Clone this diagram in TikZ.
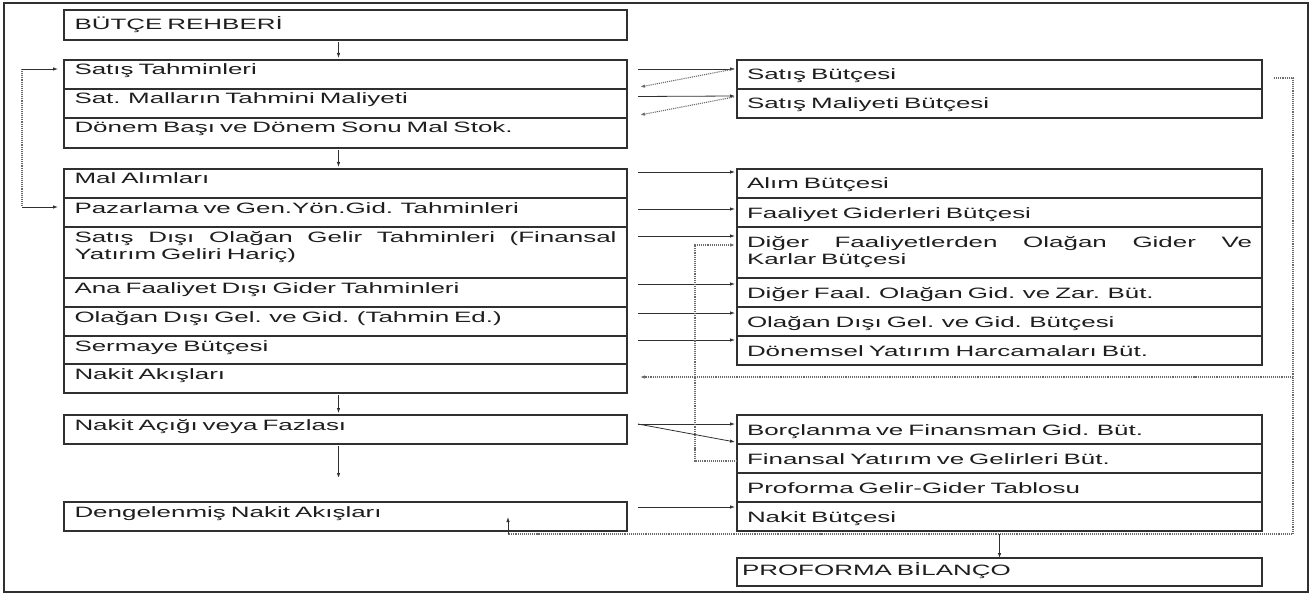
\documentclass[tikz,border=0pt]{standalone}
\usepackage{fontspec}
\setmainfont{Liberation Sans}[FakeStretch=1.73]
\usetikzlibrary{arrows.meta}
\definecolor{boxc}{HTML}{303030}
\definecolor{txtc}{HTML}{1E1E1E}
\definecolor{dotc}{HTML}{6A6A6A}
\tikzset{
  rowbox/.style={draw=boxc, line width=1.1bp, anchor=north west, inner ysep=0pt, outer sep=0pt,
    text=txtc, align=left, font=\fontsize{15bp}{17.5bp}\selectfont},
  lrow/.style={rowbox, inner xsep=10.5bp, text width=542bp, text height=15bp},
  rrow/.style={rowbox, inner xsep=10bp, text width=505bp, text height=20bp},
  arr/.style={draw=boxc, line width=0.8bp, -{Latex[length=5bp,width=3.5bp]}},
  dotl/.style={draw=dotc, line width=1.1bp, densely dotted},
  dotarr/.style={dotl, -{Latex[length=5bp,width=3.5bp]}},
}
\begin{document}
\begin{tikzpicture}[x=1bp,y=-1bp]
\useasboundingbox (0,0) rectangle (1313,595);
\draw[draw=boxc, line width=2bp] (4,3) rectangle (1308,592);

% left column
\node[lrow, text height=19.5bp, text depth=10.5bp] (br) at (64,10) {BÜTÇE REHBERİ};
\node[lrow, text depth=14bp] (st) at (64,60) {Satış Tahminleri};
\node[lrow, text depth=14bp] (smt) at (64,89) {Sat. Malların Tahmini Maliyeti};
\node[lrow, text depth=15bp] (dbs) at (64,118) {Dönem Başı ve Dönem Sonu Mal Stok.};
\node[lrow, text depth=14bp] (ma) at (64,169) {Mal Alımları};
\node[lrow, text depth=14bp] (pz) at (64,198) {Pazarlama ve Gen.Yön.Gid. Tahminleri};
\node[lrow, text depth=36bp] (sdo) at (64,227) {\hbox to 542bp{Satış\hfill Dışı\hfill Olağan\hfill Gelir\hfill Tahminleri\hfill (Finansal}\\Yatırım Geliri Hariç)};
\node[lrow, text depth=14bp] (afd) at (64,278) {Ana Faaliyet Dışı Gider Tahminleri};
\node[lrow, text depth=14bp] (odg) at (64,307) {Olağan Dışı Gel. ve Gid. (Tahmin Ed.)};
\node[lrow, text depth=13bp] (srm) at (64,336) {Sermaye Bütçesi};
\node[lrow, text depth=14bp] (na) at (64,364) {Nakit Akışları};
\node[lrow, text depth=14bp] (nac) at (64,415) {Nakit Açığı veya Fazlası};
\node[lrow, text depth=14bp] (dna) at (64,502) {Dengelenmiş Nakit Akışları};

% right column
\node[rrow, text depth=9bp] (sbu) at (737,60) {Satış Bütçesi};
\node[rrow, text depth=9bp] (smb) at (737,89) {Satış Maliyeti Bütçesi};
\node[rrow, text depth=9bp] (ab) at (737,169) {Alım Bütçesi};
\node[rrow, text depth=9bp] (fgb) at (737,198) {Faaliyet Giderleri Bütçesi};
\node[rrow, text depth=31bp] (dfo) at (737,227) {\hbox to 505bp{Diğer\hfill Faaliyetlerden\hfill Olağan\hfill Gider\hfill Ve}\\Karlar Bütçesi};
\node[rrow, text depth=9bp] (dfa) at (737,278) {Diğer Faal. Olağan Gid. ve Zar. Büt.};
\node[rrow, text depth=9bp] (odb) at (737,307) {Olağan Dışı Gel. ve Gid. Bütçesi};
\node[rrow, text depth=9bp] (dyh) at (737,336) {Dönemsel Yatırım Harcamaları Büt.};
\node[rrow, text depth=9bp] (bfg) at (737,415) {Borçlanma ve Finansman Gid. Büt.};
\node[rrow, text depth=9bp] (fyg) at (737,444) {Finansal Yatırım ve Gelirleri Büt.};
\node[rrow, text depth=9bp] (pgg) at (737,473) {Proforma Gelir-Gider Tablosu};
\node[rrow, text depth=9bp] (nb) at (737,502) {Nakit Bütçesi};
\node[rrow, inner xsep=5bp, text width=515bp, text height=17bp, text depth=11bp] (pb) at (737,558) {PROFORMA BİLANÇO};

% vertical arrows in the left column
\draw[arr] ([xshift=-7bp,yshift=-2bp]br.south) -- ([xshift=-7bp,yshift=2bp]st.north);
\draw[arr] ([xshift=-7bp,yshift=-2bp]dbs.south) -- ([xshift=-7bp,yshift=2bp]ma.north);
\draw[arr] ([xshift=-7bp,yshift=-2bp]na.south) -- ([xshift=-7bp,yshift=2bp]nac.north);
\draw[arr, line width=1.2bp] ([xshift=-7bp,yshift=-2bp]nac.south) -- ([xshift=-7bp,yshift=24bp]dna.north);

% left loop
\draw[dotl] ([xshift=-42bp,yshift=-9bp]st.north west) -- ([xshift=-42bp,yshift=-9bp]pz.north west);
\draw[arr] ([xshift=-42bp,yshift=-9bp]st.north west) -- ([xshift=-6bp,yshift=-9bp]st.north west);
\draw[arr] ([xshift=-42bp,yshift=-9bp]pz.north west) -- ([xshift=-6bp,yshift=-9bp]pz.north west);

% left to right arrows
\draw[arr] ([xshift=11bp,yshift=-9bp]st.north east) -- ([xshift=-2bp,yshift=-9bp]sbu.north west);
\draw[dotarr] ([xshift=-3bp,yshift=-9bp]sbu.north west) -- ([xshift=13bp,yshift=-27bp]st.north east);
\draw[arr] ([xshift=11bp,yshift=-7.5bp]smt.north east) -- ([xshift=-2bp,yshift=-7bp]smb.north west);
\draw[dotarr] ([xshift=-3bp,yshift=-8bp]smb.north west) -- ([xshift=13bp,yshift=-26bp]smt.north east);
\draw[arr] ([xshift=11bp,yshift=-3bp]ma.north east) -- ([xshift=-2bp,yshift=-3bp]ab.north west);
\draw[arr] ([xshift=11bp,yshift=-11bp]pz.north east) -- ([xshift=-2bp,yshift=-11bp]fgb.north west);
\draw[arr] ([xshift=11bp,yshift=-9bp]sdo.north east) -- ([xshift=-2bp,yshift=-9bp]dfo.north west);
\draw[arr] ([xshift=11bp,yshift=-6bp]afd.north east) -- ([xshift=-2bp,yshift=-6bp]dfa.north west);
\draw[arr] ([xshift=11bp,yshift=-6bp]odg.north east) -- ([xshift=-2bp,yshift=-6bp]odb.north west);
\draw[arr] ([xshift=11bp,yshift=-4bp]srm.north east) -- ([xshift=-2bp,yshift=-4bp]dyh.north west);
\draw[arr] ([xshift=11bp,yshift=-9bp]nac.north east) -- ([xshift=-2bp,yshift=-9bp]bfg.north west);
\draw[arr] ([xshift=11bp,yshift=-9bp]nac.north east) -- ([xshift=-2bp,yshift=2bp]fyg.north west);
\draw[arr] ([xshift=11bp,yshift=-5bp]dna.north east) -- ([xshift=-2bp,yshift=-5bp]nb.north west);

% Finansal Yatirim -> Diger Faaliyetlerden (dotted)
\draw[dotarr] ([yshift=-17bp]fyg.north west) -- ++(-42bp,0) |- ([xshift=-2bp,yshift=-18bp]dfo.north west);

% right dotted loop
\coordinate (rs) at ([xshift=12bp,yshift=-18bp]sbu.north east);
\coordinate (rv) at ([xshift=31bp,yshift=-18bp]sbu.north east);
\coordinate (lp) at ([xshift=444bp,yshift=-3bp]dna.south west);
\coordinate (nae) at ([xshift=13bp,yshift=-13bp]na.north east);
\coordinate (rj) at (rv |- nae);
\draw[dotl] (rs) -- (rv) |- (lp);
\draw[arr] (lp) -- ([xshift=444bp,yshift=14bp]dna.south west);
\draw[dotarr] (rj) -- (nae);
\draw[arr] (pb.north |- lp) -- (pb.north);
\end{tikzpicture}
\end{document}
